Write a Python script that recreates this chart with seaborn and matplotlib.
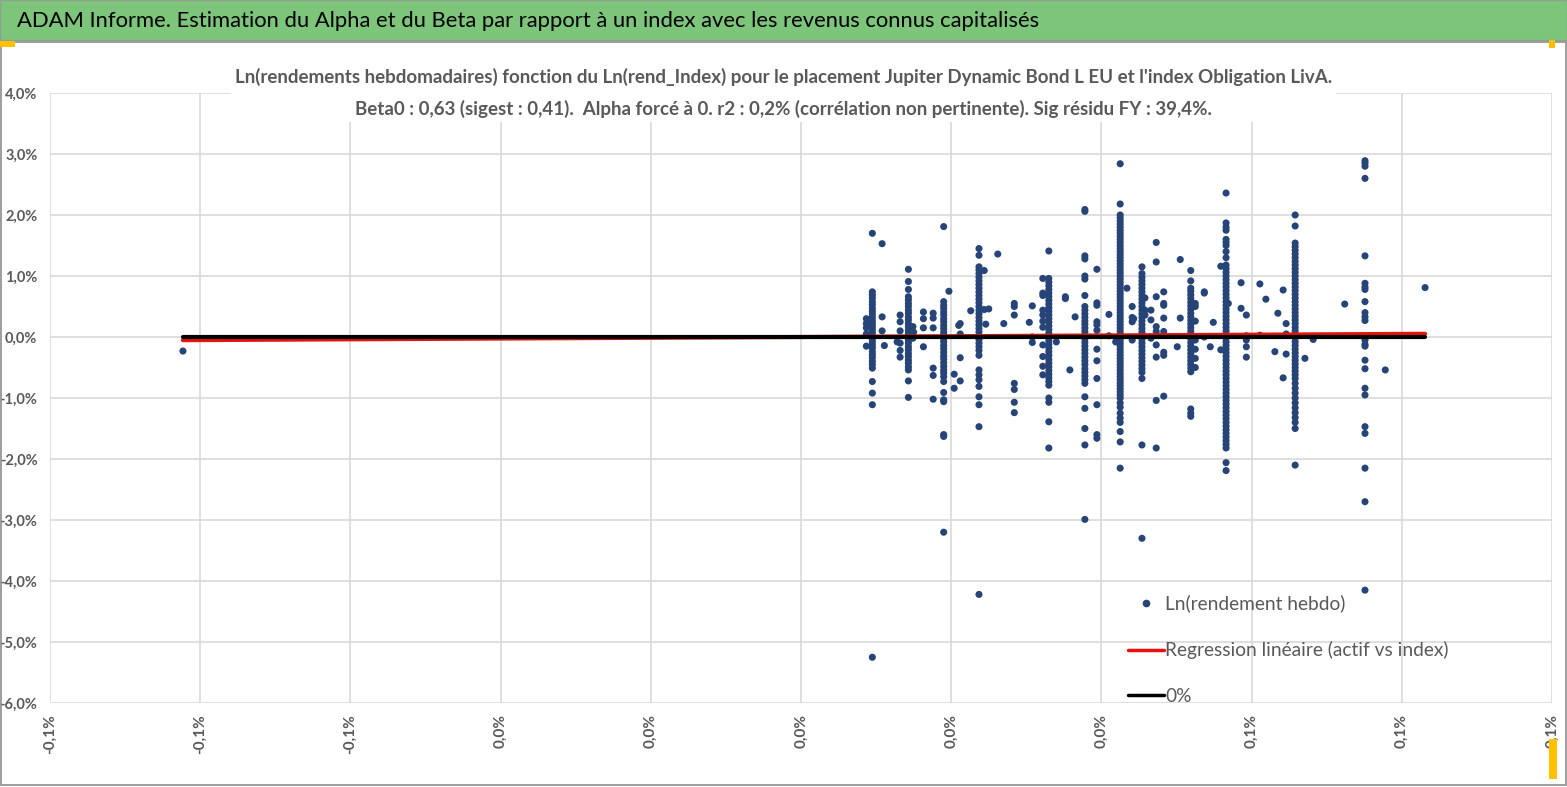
import numpy as np
import pandas as pd
import matplotlib
matplotlib.use('Agg')
import matplotlib.pyplot as plt
import seaborn as sns
from matplotlib.patches import Rectangle
from matplotlib.lines import Line2D

# Weekly log returns (fund, %) against log index returns (%)
col_x = [0.0095, 0.0143, 0.0190, 0.0237, 0.0330, 0.0378, 0.0425, 0.0454, 0.0519, 0.0566, 0.0658, 0.0751]

col_0095 = [1.70, 0.74, 0.69, 0.64, 0.58, 0.53, 0.47, 0.42, 0.37, 0.32, 0.27, 0.22, 0.17, 0.12, 0.07, 0.02,
            -0.03, -0.08, -0.13, -0.18, -0.24, -0.29, -0.34, -0.40, -0.45, -0.51, -0.73, -0.92, -1.11, -5.25]
col_0143 = [1.11, 0.91, 0.78, 0.66, 0.61, 0.55, 0.50, 0.44, 0.39, 0.33, 0.28, 0.22, 0.17, 0.11, 0.06, 0.01,
            -0.05, -0.10, -0.16, -0.21, -0.27, -0.32, -0.38, -0.43, -0.49, -0.54, -0.72, -0.99]
col_0190 = [1.81, 0.58, 0.52, 0.47, 0.41, 0.36, 0.30, 0.25, 0.19, 0.14, 0.08, 0.03, -0.03, -0.08, -0.14, -0.19,
            -0.25, -0.31, -0.36, -0.42, -0.48, -0.54, -0.59, -0.65, -0.73, -0.91, -1.03, -1.06, -1.60, -1.63, -3.20]
col_0237 = [1.45, 1.34, 1.15, 1.10, 1.04, 0.98, 0.92, 0.86, 0.80, 0.74, 0.68, 0.62, 0.56, 0.50, 0.44, 0.38,
            0.32, 0.26, 0.20, 0.14, 0.08, 0.02, -0.04, -0.10, -0.16, -0.22, -0.30, -0.54, -0.62, -0.70, -0.81,
            -0.98, -1.11, -1.47, -4.22]
col_0330 = [1.41, 0.96, 0.90, 0.84, 0.78, 0.72, 0.66, 0.60, 0.54, 0.48, 0.42, 0.36, 0.30, 0.24, 0.18, 0.12,
            0.06, 0.00, -0.06, -0.12, -0.18, -0.24, -0.30, -0.37, -0.43, -0.49, -0.55, -0.61, -0.67, -0.73,
            -0.79, -1.00, -1.07, -1.39, -1.82]
col_0378 = [2.09, 2.06, 1.33, 1.28, 1.00, 0.95, 0.68, 0.50, 0.44, 0.38, 0.32, 0.26, 0.21, 0.15, 0.09, 0.03,
            -0.03, -0.09, -0.15, -0.21, -0.27, -0.33, -0.39, -0.45, -0.52, -0.58, -0.64, -0.70, -0.76, -0.98,
            -1.17, -1.50, -1.77, -2.99]
col_0425 = [2.84, 2.18, 2.00, 1.95, 1.90, 1.85, 1.80, 1.75, 1.70, 1.65, 1.60, 1.55, 1.50, 1.45, 1.40, 1.35,
            1.30, 1.25, 1.20, 1.15, 1.10, 1.05, 1.00, 0.95, 0.90, 0.85, 0.80, 0.75, 0.70, 0.65, 0.60, 0.55,
            0.50, 0.45, 0.40, 0.35, 0.30, 0.25, 0.20, 0.15, 0.10, 0.05, 0.00, -0.05, -0.10, -0.15, -0.20,
            -0.25, -0.30, -0.35, -0.40, -0.45, -0.50, -0.55, -0.60, -0.65, -0.70, -0.75, -0.80, -0.85, -0.90,
            -0.95, -1.00, -1.08, -1.15, -1.25, -1.33, -1.40, -1.55, -1.72, -2.15]
col_0454 = [1.15, 1.04, 0.98, 0.92, 0.86, 0.80, 0.74, 0.68, 0.62, 0.56, 0.50, 0.44, 0.38, 0.32, 0.26, 0.20,
            0.14, 0.08, 0.02, -0.04, -0.10, -0.16, -0.22, -0.28, -0.34, -0.40, -0.46, -0.52, -0.58, -0.68,
            -1.77, -3.30]
col_0519 = [1.09, 0.92, 0.80, 0.75, 0.69, 0.63, 0.57, 0.51, 0.45, 0.39, 0.33, 0.27, 0.21, 0.15, 0.09, 0.03,
            -0.03, -0.09, -0.15, -0.21, -0.27, -0.33, -0.39, -0.45, -0.51, -0.57, -1.18, -1.25, -1.30]
col_0566 = [2.36, 1.87, 1.80, 1.75, 1.60, 1.55, 1.50, 1.40, 1.30, 1.18, 1.12, 1.06, 1.00, 0.94, 0.88, 0.82,
            0.76, 0.70, 0.64, 0.58, 0.52, 0.46, 0.40, 0.34, 0.28, 0.22, 0.16, 0.10, 0.04, -0.02, -0.08, -0.14,
            -0.20, -0.26, -0.32, -0.38, -0.44, -0.50, -0.56, -0.62, -0.68, -0.74, -0.80, -0.86, -0.92, -0.98,
            -1.04, -1.10, -1.16, -1.22, -1.28, -1.34, -1.40, -1.46, -1.52, -1.58, -1.64, -1.70, -1.76, -1.82,
            -2.06, -2.19]
col_0658 = [2.00, 1.82, 1.54, 1.48, 1.42, 1.36, 1.30, 1.24, 1.18, 1.12, 1.06, 1.00, 0.94, 0.88, 0.82, 0.76,
            0.70, 0.64, 0.58, 0.52, 0.46, 0.40, 0.34, 0.28, 0.22, 0.16, 0.10, 0.04, -0.02, -0.08, -0.14, -0.20,
            -0.26, -0.32, -0.38, -0.44, -0.50, -0.56, -0.62, -0.68, -0.76, -0.84, -0.92, -1.00, -1.08, -1.16,
            -1.24, -1.32, -1.40, -1.50, -2.10]
col_0751 = [2.89, 2.85, 2.80, 2.60, 1.33, 0.88, 0.82, 0.78, 0.58, 0.40, 0.33, 0.27, -0.05, -0.12, -0.15,
            -0.38, -0.52, -0.84, -0.95, -1.47, -1.58, -2.15, -2.70, -4.15]

columns_y = [col_0095, col_0143, col_0190, col_0237, col_0330, col_0378,
             col_0425, col_0454, col_0519, col_0566, col_0658, col_0751]

# isolated points between the main columns
other_x = [-0.0823,
           0.0087, 0.0087, 0.0087, 0.0087, 0.0087, 0.0108, 0.0108, 0.0108, 0.0111,
           0.0132, 0.0132, 0.0132, 0.0132, 0.0132, 0.0132, 0.0128, 0.0149, 0.0150, 0.0149,
           0.0163, 0.0163, 0.0163, 0.0163, 0.0176, 0.0176, 0.0176, 0.0176, 0.0176, 0.0176,
           0.0197, 0.0204, 0.0204, 0.0212, 0.0210, 0.0212, 0.0212, 0.0212, 0.0226,
           0.0244, 0.0244, 0.0246, 0.0250, 0.0262, 0.0270,
           0.0284, 0.0284, 0.0284, 0.0284, 0.0284, 0.0284, 0.0284, 0.0304, 0.0308, 0.0308, 0.0308,
           0.0322, 0.0322, 0.0322, 0.0322, 0.0322, 0.0322, 0.0322, 0.0322, 0.0322, 0.0322, 0.0322,
           0.0340, 0.0352, 0.0352, 0.0358, 0.0365,
           0.0394, 0.0394, 0.0394, 0.0394, 0.0394, 0.0394, 0.0394, 0.0394, 0.0394, 0.0394, 0.0394, 0.0394,
           0.0410, 0.0410, 0.0419, 0.0434, 0.0441, 0.0441, 0.0441, 0.0441, 0.0443,
           0.0458, 0.0458, 0.0458, 0.0466, 0.0466, 0.0466,
           0.0473, 0.0473, 0.0473, 0.0473, 0.0473, 0.0473, 0.0473, 0.0473, 0.0473,
           0.0483, 0.0483, 0.0483, 0.0483, 0.0483, 0.0483, 0.0483, 0.0483,
           0.0501, 0.0505, 0.0505, 0.0525, 0.0525, 0.0525, 0.0525, 0.0525, 0.0525, 0.0525,
           0.0537, 0.0537, 0.0537, 0.0545, 0.0549, 0.0559, 0.0559, 0.0569, 0.0586, 0.0586,
           0.0593, 0.0593, 0.0593, 0.0593, 0.0593, 0.0611, 0.0611, 0.0619, 0.0631, 0.0635,
           0.0642, 0.0642, 0.0646, 0.0646, 0.0646, 0.0671, 0.0682, 0.0724, 0.0778, 0.0831]
other_y = [-0.23,
           0.30, 0.22, 0.15, 0.05, -0.15, 1.53, 0.33, 0.10, -0.14,
           0.36, 0.25, 0.10, -0.10, -0.22, -0.33, -0.08, 0.17, 0.08, -0.02,
           0.41, 0.30, 0.15, -0.16, 0.39, 0.31, 0.15, -0.51, -0.63, -1.02,
           0.75, -0.61, -0.84, 0.22, 0.19, 0.05, -0.34, -0.72, 0.43,
           1.09, 0.45, 0.21, 0.46, 1.36, 0.22,
           0.55, 0.50, 0.36, -0.76, -0.86, -1.07, -1.24, 0.24, 0.51, 0.00, -0.09,
           0.96, 0.72, 0.68, 0.44, 0.36, 0.26, 0.16, -0.13, -0.32, -0.48, -0.62,
           -0.08, 0.66, 0.63, -0.54, 0.33,
           1.11, 0.56, 0.52, 0.25, 0.20, 0.11, -0.20, -0.39, -0.68, -1.11, -1.60, -1.66,
           0.37, 0.02, -0.08, 0.80, 0.50, 0.32, 0.25, -0.05, 0.30,
           0.64, 0.44, 0.36, 0.44, 0.28, -0.02,
           1.55, 1.23, 0.66, 0.17, 0.09, -0.13, -0.33, -1.04, -1.82,
           0.74, 0.55, 0.52, 0.31, 0.09, -0.25, -0.30, -0.97,
           -0.16, 0.31, 1.27, 0.55, 0.50, 0.26, -0.05, -0.20, -0.35, -0.50,
           0.74, 0.72, 0.00, -0.16, 0.24, 1.16, -0.21, 0.55, 0.89, 0.47,
           0.36, 0.02, -0.05, -0.16, -0.33, 0.87, 0.03, 0.62, -0.24, 0.39,
           0.77, -0.67, 0.22, 0.05, -0.28, -0.35, -0.04, 0.54, -0.54, 0.81]

beta0 = 0.63

x_ticks = [-0.10, -0.08, -0.06, -0.04, -0.02, 0.00, 0.02, 0.04, 0.06, 0.08, 0.10]
x_tick_labels = ['-0,1%', '-0,1%', '-0,1%', '0,0%', '0,0%', '0,0%', '0,0%', '0,0%', '0,1%', '0,1%', '0,1%']
y_ticks = [4, 3, 2, 1, 0, -1, -2, -3, -4, -5, -6]
y_tick_labels = ['4,0%', '3,0%', '2,0%', '1,0%', '0,0%', '-1,0%', '-2,0%', '-3,0%', '-4,0%', '-5,0%', '-6,0%']

title = "ADAM Informe. Estimation du Alpha et du Beta par rapport à un index avec les revenus connus capitalisés"
subtitle = ("Ln(rendements hebdomadaires) fonction du Ln(rend_Index) pour le placement Jupiter Dynamic Bond L EU et l'index Obligation LivA.\n"
            "Beta0 : 0,63 (sigest : 0,41).  Alpha forcé à 0. r2 : 0,2% (corrélation non pertinente). Sig résidu FY : 39,4%.")

# build the table
xs, ys = [], []
for cx, cy in zip(col_x, columns_y):
    xs += [cx] * len(cy)
    ys += cy
xs += other_x
ys += other_y
df = pd.DataFrame({'index_ret': xs, 'fund_ret': ys})

sns.set_theme(style='white')
plt.rcParams['font.family'] = ['Lato', 'DejaVu Sans']

grey_txt = '#595959'
dot_col = '#264478'

fig = plt.figure(figsize=(15.67, 7.87), dpi=100)
fig.patch.set_facecolor('white')

# green banner on top
fig.patches.append(Rectangle((0, 1 - 40 / 787), 1, 40 / 787, transform=fig.transFigure,
                             facecolor='#7DC57B', edgecolor='#8FA08F', linewidth=1, zorder=0))
fig.text(17 / 1567, 1 - 21 / 787, title, fontsize=15.8, color='black', va='center', ha='left')

# chart frame and excel selection handles
fig.patches.append(Rectangle((0.5 / 1567, 2 / 787), 1565 / 1567, 743 / 787, transform=fig.transFigure,
                             facecolor='none', edgecolor='#8C8C8C', linewidth=1.2))
fig.patches.append(Rectangle((0, 1 - 47 / 787), 15 / 1567, 6 / 787, transform=fig.transFigure,
                             facecolor='#FFC000', edgecolor='none'))
fig.patches.append(Rectangle((1549 / 1567, 1 - 48 / 787), 6 / 1567, 8 / 787, transform=fig.transFigure,
                             facecolor='#FFC000', edgecolor='none'))
fig.patches.append(Rectangle((1549 / 1567, 8 / 787), 8 / 1567, 40 / 787, transform=fig.transFigure,
                             facecolor='#FFC000', edgecolor='none'))

ax = fig.add_axes([50 / 1567, 1 - 703 / 787, 1502 / 1567, 610 / 787])

sns.scatterplot(data=df, x='index_ret', y='fund_ret', ax=ax, color=dot_col, s=26,
                edgecolor='none', linewidth=0, zorder=3, legend=False)

x_line = np.array([df['index_ret'].min(), df['index_ret'].max()])
ax.plot(x_line, beta0 * x_line, color='#E8120C', linewidth=3, zorder=4)
ax.plot(x_line, [0, 0], color='black', linewidth=3, zorder=5)

ax.set_xlim(-0.10, 0.10)
ax.set_ylim(-6, 4)
ax.set_xticks(x_ticks)
ax.set_xticklabels(x_tick_labels, rotation=90, fontsize=11, color=grey_txt, fontweight='bold')
ax.set_yticks(y_ticks)
ax.set_yticklabels(y_tick_labels, fontsize=10.5, color=grey_txt, fontweight='bold')
ax.tick_params(axis='both', length=0)
ax.tick_params(axis='x', pad=8)
ax.tick_params(axis='y', pad=9)
ax.grid(True, color='#D9D9D9', linewidth=1.2)
ax.set_axisbelow(True)
for sp in ax.spines.values():
    sp.set_visible(False)
ax.set_xlabel('')
ax.set_ylabel('')
ax.set_facecolor('none')

fig.text(0.5, 1 - 93 / 787, subtitle, ha='center', va='center',
         fontsize=13.5, fontweight='bold', color=grey_txt, linespacing=1.9, zorder=6,
         bbox=dict(facecolor='white', edgecolor='none', pad=3))

handles = [Line2D([], [], marker='o', linestyle='none', color=dot_col, markersize=4.5),
           Line2D([], [], color='#E8120C', linewidth=2.5),
           Line2D([], [], color='black', linewidth=2.5)]
labels = ['Ln(rendement hebdo)', 'Regression linéaire (actif vs index)', '0%']
leg = ax.legend(handles, labels, loc='lower left', bbox_to_anchor=(1070 / 1502, -0.016),
                frameon=False, fontsize=13.8, labelcolor=grey_txt, handlelength=1.9,
                handletextpad=0.05, labelspacing=1.5, borderaxespad=0)

fig.savefig('out.png', dpi=100, facecolor='white')
